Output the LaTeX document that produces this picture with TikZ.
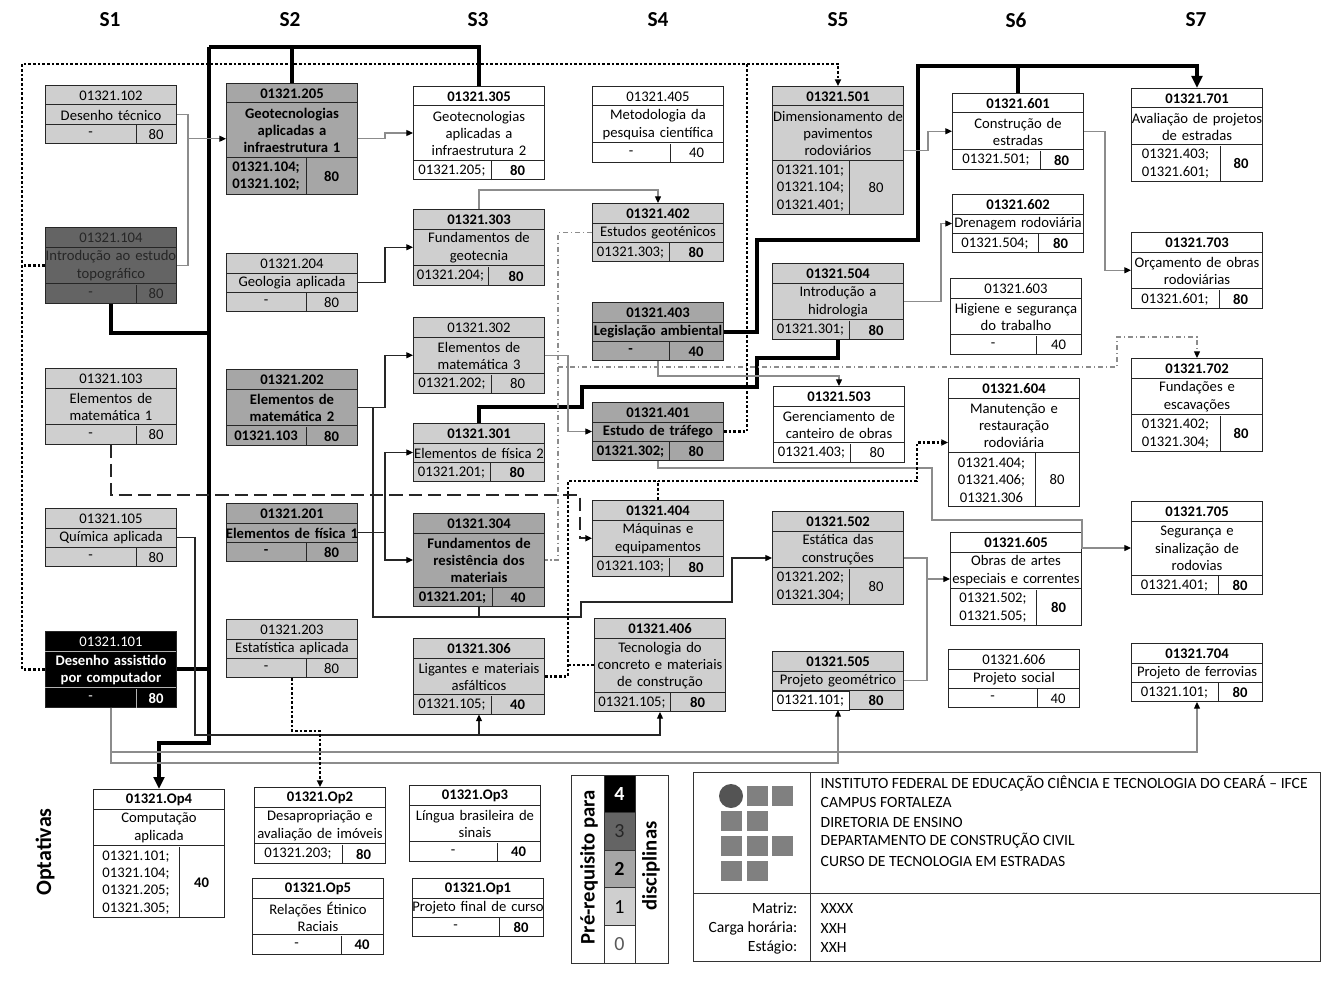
\documentclass[tikz,border=0pt]{standalone}
\usepackage{fontspec}
\setmainfont{Carlito}
\usetikzlibrary{calc,arrows.meta}

\definecolor{lvone}{HTML}{CFCFCF}
\definecolor{lvtwo}{HTML}{A6A6A6}
\definecolor{lvthree}{HTML}{646464}
\definecolor{logogray}{HTML}{808080}

\newcommand{\discfont}{\fontsize{11}{13}\selectfont}
\newcommand{\blockfont}{\fontsize{11.7}{14}\selectfont}
\def\discsplit#1|#2|#3|#4\relax{\def\dcode{#1}\def\dtitle{#2}\def\dpre{#3}\def\dhrs{#4}}
% #1 name, #2 top left, #3 title lines, #4 prereq lines, #5 split, #6 level, #7 code|title|prereq|hours
\newcommand{\disc}[7]{%
  \discsplit#7\relax
  \pgfmathsetmacro\discT{17.5*#3+1.5}%
  \pgfmathsetmacro\discP{17.5*#4+1.5}%
  \begin{scope}[#6]
    \node[box, minimum height={(20+\discT+\discP)*0.75pt}] (#1) at (#2) {};
    \draw[rowline] ($(#1.north west)+(0,20)$) -- ++(131,0);
    \draw[rowline] ($(#1.north west)+(0,20+\discT)$) -- ++(131,0);
    \draw[rowline] ($(#1.south west)+(#5,0)$) -- ++(0,-\discP);
    \node[txt] (#1c) at ($(#1.north)+(0,11)$) {\dcode};
    \node[txt] (#1t) at ($(#1.north)+(0,20.5+\discT/2)$) {\dtitle};
    \node[txt, text width=100pt] (#1p) at ($(#1.south west)+(#5/2,-\discP/2)$) {\dpre};
    \node[txt, text width=50pt] (#1h) at ($(#1.south west)+(#5/2+65.5,-\discP/2)$) {\dhrs};
  \end{scope}}

\tikzset{
  box/.style={draw=black!85, line width=0.75pt, minimum width=98.25pt, inner sep=0pt, anchor=north west},
  rowline/.style={draw=black!85, line width=0.75pt},
  txt/.style={inner sep=0pt, align=center, text width=110pt, font=\discfont},
  lvw/.style={box/.append style={fill=white}},
  lva/.style={box/.append style={fill=lvone}},
  lvb/.style={box/.append style={fill=lvtwo}},
  lvc/.style={box/.append style={fill=lvthree}, txt/.append style={text=black!85}},
  lvd/.style={box/.append style={fill=black}, txt/.append style={text=white}, rowline/.append style={draw=white!70!black}},
  linkg/.style={draw=black!45, line width=0.9pt},
  linkk/.style={draw=black!85, line width=0.9pt},
  thickline/.style={draw=black, line width=3pt},
  dotline/.style={draw=black, line width=2pt, dash pattern=on 2pt off 1.5pt},
  dashline/.style={draw=black!85, line width=1.4pt, dash pattern=on 10pt off 4.5pt},
  dashdotline/.style={draw=black!45, line width=0.9pt, dash pattern=on 4pt off 2pt on 1pt off 2pt}
}

\begin{document}
\begin{tikzpicture}[x=0.75pt, y=-0.75pt, >={Triangle[length=5pt,width=4.5pt,color=black]}]
  \fill[white] (0,0) rectangle (1321,981);
  \useasboundingbox (0,0) rectangle (1321,981);

  \foreach \x/\s in {110/S1,290/S2,478/S3,658/S4,838/S5,1016/S6,1196/S7}
    \node[font=\bfseries\fontsize{16}{18}\selectfont] (h\s) at (\x,20) {\s};
  \node[rotate=90, font=\bfseries\fontsize{16.5}{19}\selectfont] (optlabel) at (45,852) {Optativas};

  % S1
  \disc{d102}{45,85}{1}{1}{91}{lva}{01321.102|Desenho técnico|-|80}
  \disc{d104}{45,227}{2}{1}{91}{lvc}{01321.104|Introdução ao estudo\\topográfico|-|80}
  \disc{d103}{45,368}{2}{1}{91}{lva}{01321.103|Elementos de\\matemática 1|-|80}
  \disc{d105}{45,508}{1}{1}{91}{lva}{01321.105|Química aplicada|-|80}
  \disc{d101}{45,631}{2}{1}{91}{lvd}{01321.101|\bfseries Desenho assistido\\por computador|-|\bfseries 80}
  % S2
  \disc{d205}{226,83}{3}{2}{80}{lvb}{\bfseries 01321.205|\bfseries Geotecnologias\\aplicadas a\\infraestrutura 1|\bfseries 01321.104;\\01321.102;|\bfseries 80}
  \disc{d204}{226,253}{1}{1}{80}{lva}{01321.204|Geologia aplicada|-|80}
  \disc{d202}{226,369}{2}{1}{80}{lvb}{\bfseries 01321.202|\bfseries Elementos de\\matemática 2|\bfseries 01321.103|\bfseries 80}
  \disc{d201}{226,503}{1}{1}{80}{lvb}{\bfseries 01321.201|\bfseries Elementos de física 1|\bfseries -|\bfseries 80}
  \disc{d203}{226,619}{1}{1}{80}{lva}{01321.203|Estatística aplicada|-|80}
  % S3
  \disc{d305}{413,86}{3}{1}{78}{lvw}{\bfseries 01321.305|Geotecnologias\\aplicadas a\\infraestrutura 2|01321.205;|\bfseries 80}
  \disc{d303}{413,209}{2}{1}{75}{lva}{\bfseries 01321.303|Fundamentos de\\geotecnia|01321.204;|\bfseries 80}
  \disc{d302}{413,317}{2}{1}{78}{lva}{01321.302|Elementos de\\matemática 3|01321.202;|80}
  \disc{d301}{413,423}{1}{1}{77}{lva}{\bfseries 01321.301|Elementos de física 2|01321.201;|\bfseries 80}
  \disc{d304}{413,513}{3}{1}{79}{lvb}{\bfseries 01321.304|\bfseries Fundamentos de\\resistência dos\\materiais|\bfseries 01321.201;|\bfseries 40}
  \disc{d306}{413,638}{2}{1}{78}{lva}{\bfseries 01321.306|Ligantes e materiais\\asfálticos|01321.105;|\bfseries 40}
  % S4
  \disc{d405}{592,86}{2}{1}{78}{lvw}{01321.405|Metodologia da\\pesquisa científica|-|40}
  \disc{d402}{592,203}{1}{1}{77}{lva}{\bfseries 01321.402|Estudos geoténicos|01321.303;|\bfseries 80}
  \disc{d403}{592,302}{1}{1}{77}{lvb}{\bfseries 01321.403|\bfseries Legislação ambiental|\bfseries -|\bfseries 40}
  \disc{d401}{592,402}{1}{1}{77}{lvb}{\bfseries 01321.401|\bfseries Estudo de tráfego|\bfseries 01321.302;|\bfseries 80}
  \disc{d404}{592,500}{2}{1}{77}{lva}{\bfseries 01321.404|Máquinas e\\equipamentos|01321.103;|\bfseries 80}
  \disc{d406}{594,618}{3}{1}{76}{lva}{\bfseries 01321.406|Tecnologia do\\concreto e materiais\\de construção|01321.105;|\bfseries 80}
  % S5
  \disc{d501}{772,86}{3}{3}{77}{lva}{\bfseries 01321.501|Dimensionamento de\\pavimentos\\rodoviários|01321.101;\\01321.104;\\01321.401;|80}
  \disc{d504}{772,263}{2}{1}{77}{lva}{\bfseries 01321.504|Introdução a\\hidrologia|01321.301;|\bfseries 80}
  \disc{d503}{773,386}{2}{1}{77}{lvw}{\bfseries 01321.503|Gerenciamento de\\canteiro de obras|01321.403;|80}
  \disc{d502}{772,511}{2}{2}{77}{lva}{\bfseries 01321.502|Estática das\\construções|01321.202;\\01321.304;|80}
  \disc{d505}{772,651}{1}{1}{77}{lva}{\bfseries 01321.505|Projeto geométrico|01321.101;|\bfseries 80}
  \filldraw[fill=white, draw=black!85, line width=0.75pt] ($(d505.south west)+(0,-19)$) rectangle ($(d505.south west)+(77,0)$);
  \node[txt] (d505w) at ($(d505.south west)+(38.5,-9.5)$) {01321.101;};
  % S6
  \disc{d601}{952,93}{2}{1}{88}{lvw}{\bfseries 01321.601|Construção de\\estradas|01321.501;|\bfseries 80}
  \disc{d602}{952,194}{1}{1}{86}{lvw}{\bfseries 01321.602|Drenagem rodoviária|01321.504;|\bfseries 80}
  \disc{d603}{950,278}{2}{1}{86}{lvw}{01321.603|Higiene e segurança\\do trabalho|-|40}
  \disc{d604}{948,378}{3}{3}{87}{lvw}{\bfseries 01321.604|Manutenção e\\restauração\\rodoviária|01321.404;\\01321.406;\\01321.306|80}
  \disc{d605}{950,532}{2}{2}{86}{lvw}{\bfseries 01321.605|Obras de artes\\especiais e correntes|01321.502;\\01321.505;|\bfseries 80}
  \disc{d606}{948,649}{1}{1}{89}{lvw}{01321.606|Projeto social|-|40}
  % S7
  \disc{d701}{1131,88}{2}{2}{89}{lvw}{\bfseries 01321.701|Avaliação de projetos\\de estradas|01321.403;\\01321.601;|\bfseries 80}
  \disc{d703}{1131,232}{2}{1}{88}{lvw}{\bfseries 01321.703|Orçamento de obras\\rodoviárias|01321.601;|\bfseries 80}
  \disc{d702}{1131,358}{2}{2}{89}{lvw}{\bfseries 01321.702|Fundações e\\escavações|01321.402;\\01321.304;|\bfseries 80}
  \disc{d705}{1131,501}{3}{1}{87}{lvw}{\bfseries 01321.705|Segurança e\\sinalização de\\rodovias|01321.401;|\bfseries 80}
  \disc{d704}{1131,643}{1}{1}{87}{lvw}{\bfseries 01321.704|Projeto de ferrovias|01321.101;|\bfseries 80}
  % optativas
  \disc{dop4}{93,789}{2}{4}{86}{lvw}{\bfseries 01321.Op4|Computação\\aplicada|01321.101;\\01321.104;\\01321.205;\\01321.305;|\bfseries 40}
  \disc{dop2}{254,787}{2}{1}{88}{lvw}{\bfseries 01321.Op2|Desapropriação e\\avaliação de imóveis|01321.203;|\bfseries 80}
  \disc{dop3}{409,785}{2}{1}{88}{lvw}{\bfseries 01321.Op3|Língua brasileira de\\sinais|-|\bfseries 40}
  \disc{dop5}{252,878}{2}{1}{89}{lvw}{\bfseries 01321.Op5|Relações Étinico\\Raciais|-|\bfseries 40}
  \disc{dop1}{412,878}{1}{1}{87}{lvw}{\bfseries 01321.Op1|Projeto final de curso|-|\bfseries 80}

  % thick lines
  \coordinate (optop) at (209,47);
  \draw[thickline] (d205.north) -- (d205.north |- optop);
  \draw[thickline] (optop) -| (d305.north);
  \draw[thickline, -{Triangle[length=9pt,width=8pt]}] (optop) -- (209,743) -| (dop4.north);
  \draw[thickline] (d104.south) |- (209,333);
  \draw[thickline] (d101.east) -- (d101.east -| optop);
  \draw[thickline, -{Triangle[length=9pt,width=8pt]}] (d403.east) -| (757,240) -| (918,66) -| (d701.north);
  \draw[thickline] (d601.north) -- (d601.north |- 918,66);
  \draw[thickline] (d301.north) |- (582,407) |- (757,387) |- (d504.south |- 0,358) -- (d504.south);

  % thin links
  \draw[linkg, ->] (d102.east) -| (188,0 |- d205.west) -- (d205.west);
  \draw[linkg] (d104.east) -| (188,0 |- d205.west);
  \draw[linkg, ->] (d205.east) -| (385,0 |- d305.west) -- (d305.west);
  \draw[linkk, ->] (d204.east) -| (385,0 |- d303.west) -- (d303.west);
  \draw[linkg, ->] (d303.north) |- (d402.north |- 0,190) -- (d402.north);
  \draw[linkk, ->] (d202.east) -| (385,0 |- d302.west) -- (d302.west);
  \draw[linkk, ->] (d202.east) -| (373,617) -| (581,602) -| (732,0 |- d502.west) -- (d502.west);
  \draw[linkk] (d304.south) -- (d304.south |- 0,617);
  \draw[linkk, ->] (d201.east) -| (385,0 |- d301.west) -- (d301.west);
  \draw[linkk, ->] (385,0 |- d201.east) |- (d304.west);
  \draw[linkg, ->] (d302.east) -| (568,0 |- d401.west) -- (d401.west);
  \draw[linkg, ->] (d401.south) |- (932,468) |- (1082,520) |- (d705.west);
  \draw[linkg, ->] (d403.south) |- (d503.north |- 0,376) -- (d503.north);
  \draw[linkg, ->] (d101.south) |- (d704.south |- 0,752) -- (d704.south);
  \draw[linkg, ->] (d101.south) |- (d505.south |- 0,763) -- (d505.south);
  \draw[linkk, ->] (d105.east) -| (195,735) -| (d406.south);
  \draw[linkk, ->] (d306.south |- 0,735) -- (d306.south);
  \draw[linkg, ->] (d501.east) -| (928,0 |- d601.west) -- (d601.west);
  \draw[linkg, ->] (d504.east) -| (941,0 |- d602.west) -- (d602.west);
  \draw[linkg, ->] (d601.east) -| (1105,0 |- d703.west) -- (d703.west);
  \draw[linkg, ->] (d502.east) -| (927,0 |- d605.west) -- (d605.west);
  \draw[linkg] (d505.east) -| (927,0 |- d605.west);

  % dotted, dashed
  \draw[dashdotline] (d402.west) -| (558,0 |- d304.east) -- (d304.east);
  \draw[dashdotline, ->] (558,367) -| (1117,337) -| (d702.north);
  \draw[dotline, ->] (d306.east) -| (568,481) -| (917,0 |- d604.west) -- (d604.west);
  \draw[dotline] (d404.north) -- (d404.north |- 0,481);
  \draw[dotline] (d406.west) -- (d406.west -| 568,0);
  \draw[dotline, ->] (d101.west) -| (22,64) -| (d501.north);
  \draw[dotline] (d104.west) -- (d104.west -| 22,0);
  \draw[dotline] (d401.east) -| (747,64);
  \draw[dotline, ->] (d203.south) |- (dop2.north |- 0,731) -- (dop2.north);
  \draw[dashline, ->] (d103.south) |- (580,495) |- (d404.west);

  % legend
  \foreach \i/\c in {0/black,1/lvthree,2/lvtwo,3/lvone,4/white}
    \filldraw[fill=\c, draw=black!80, line width=0.75pt] (604,775+37.6*\i) rectangle (635,812.6+37.6*\i);
  \draw[black!80, line width=0.75pt] (571,775) rectangle (668,963);
  \node[font=\bfseries\fontsize{15}{17}\selectfont, text=white] (lg4) at (619.5,793.8) {4};
  \node[font=\fontsize{15}{17}\selectfont, text=black!85] (lg3) at (619.5,831.4) {3};
  \node[font=\bfseries\fontsize{15}{17}\selectfont] (lg2) at (619.5,869) {2};
  \node[font=\fontsize{15}{17}\selectfont] (lg1) at (619.5,906.6) {1};
  \node[font=\fontsize{15}{17}\selectfont, text=black!65] (lg0) at (619.5,944.2) {0};
  \node[rotate=90, font=\bfseries\fontsize{15.5}{17}\selectfont] (lgpre) at (589,867) {Pré-requisito para};
  \node[rotate=90, font=\bfseries\fontsize{15.5}{17}\selectfont] (lgdisc) at (651,866) {disciplinas};

  % title block
  \draw[black!80, line width=0.75pt] (693,772) rectangle (1320,961);
  \draw[black!80, line width=0.75pt] (693,893) -- (1320,893);
  \draw[black!80, line width=0.75pt] (810,772) -- (810,961);
  \fill[black!67] (731,796) circle[radius=12];
  \foreach \x/\y in {747/786,772/786,721/811,747/811,721/836,747/836,772/836,721/861,747/861}
    \fill[logogray] (\x,\y) rectangle ++(21,20);
  \node[anchor=west, font=\blockfont] (tb1) at (816,783) {INSTITUTO FEDERAL DE EDUCAÇÃO CIÊNCIA E TECNOLOGIA DO CEARÁ – IFCE};
  \node[anchor=west, font=\blockfont] (tb2) at (816,802) {CAMPUS FORTALEZA};
  \node[anchor=west, font=\blockfont] (tb3) at (816,822) {DIRETORIA DE ENSINO};
  \node[anchor=west, font=\blockfont] (tb4) at (816,841) {DEPARTAMENTO DE CONSTRUÇÃO CIVIL};
  \node[anchor=west, font=\blockfont] (tb5) at (816,861) {CURSO DE TECNOLOGIA EM ESTRADAS};
  \node[anchor=east, font=\blockfont] (tbm) at (802,908) {Matriz:};
  \node[anchor=east, font=\blockfont] (tbc) at (802,928) {Carga horária:};
  \node[anchor=east, font=\blockfont] (tbe) at (802,947) {Estágio:};
  \node[anchor=west, font=\blockfont] (tbmv) at (816,908) {XXXX};
  \node[anchor=west, font=\blockfont] (tbcv) at (816,928) {XXH};
  \node[anchor=west, font=\blockfont] (tbev) at (816,947) {XXH};
\end{tikzpicture}
\end{document}
